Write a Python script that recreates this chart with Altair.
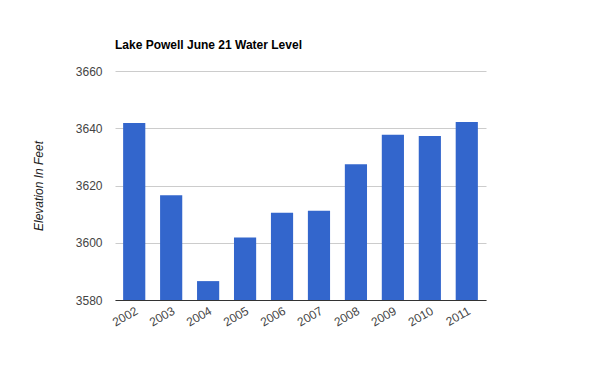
import altair as alt
import pandas as pd

years = ["2002", "2003", "2004", "2005", "2006", "2007", "2008", "2009", "2010", "2011"]
elevation = [3641.8, 3616.6, 3586.6, 3601.8, 3610.5, 3611.2, 3627.4, 3637.7, 3637.3, 3642.2]
y_ticks = [3580, 3600, 3620, 3640, 3660]
baseline = 3580

df = pd.DataFrame({"Year": years, "Elevation": elevation})

FONT = "Liberation Sans"

chart = alt.Chart(df).mark_bar(color="#3366cc").encode(
    x=alt.X("Year:N", sort=years,
            scale=alt.Scale(paddingInner=0.4, paddingOuter=0.22),
            axis=alt.Axis(title=None, labelAngle=330, labelAlign="right", labelBaseline="top",
                          labelPadding=5, labelLimit=200, ticks=False, domainColor="#333333",
                          domainWidth=1, labelFont=FONT, labelFontSize=12, labelColor="#444444",
                          grid=False, zindex=1)),
    y=alt.Y("Elevation:Q",
            scale=alt.Scale(domain=[3580, 3660], nice=False, zero=False),
            axis=alt.Axis(title="Elevation In Feet", values=y_ticks, format="d", ticks=False,
                          domain=False, grid=True, gridColor="#cccccc", gridWidth=1,
                          labelPadding=13, labelFont=FONT, labelFontSize=12, labelColor="#444444",
                          titleFont=FONT, titleFontSize=12, titleFontStyle="italic",
                          titleFontWeight="normal", titleColor="#222222",
                          titleX=-77, titleY=114.5, titleAngle=270, titleAlign="center",
                          titleBaseline="middle")),
    y2=alt.datum(baseline),
).properties(
    width=371,
    height=229,
    title=alt.TitleParams("Lake Powell June 21 Water Level", anchor="start", frame="group",
                          font=FONT, fontSize=12, fontWeight="bold", color="#000000", offset=13),
    padding={"left": 107, "top": 63, "right": 100, "bottom": 60},
    autosize=alt.AutoSizeParams(type="none"),
).configure_view(stroke=None)

chart.save("out.html", embed_options={"renderer": "svg", "actions": False})
